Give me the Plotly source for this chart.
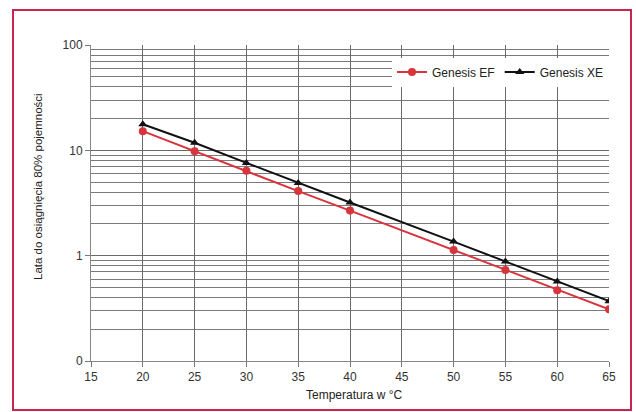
import plotly.graph_objects as go

temps_ef = [20, 25, 30, 35, 40, 50, 55, 60, 65]
years_ef = [15.2, 9.8, 6.4, 4.1, 2.68, 1.13, 0.73, 0.47, 0.31]
temps_xe = [20, 25, 30, 35, 40, 50, 55, 60, 65]
years_xe = [17.7, 11.8, 7.6, 4.9, 3.2, 1.36, 0.88, 0.57, 0.37]
y_tickvals = [0.1, 1, 10, 100]
y_ticktext = ["0", "1", "10", "100"]
minor_vals = [m * d for d in (0.1, 1, 10) for m in range(2, 10)]

L, R, T, B = 91, 27, 45, 51
W, H = 636, 412
pw, ph = W - L - R, H - T - B

def px(x):
    return (x - L) / pw

def py(y):
    return 1 - (y - T) / ph

fig = go.Figure()
fig.add_trace(go.Scatter(
    x=temps_ef, y=years_ef, name="Genesis EF", mode="lines+markers",
    line=dict(color="#d8343c", width=2),
    marker=dict(symbol="circle", size=8, color="#d8343c")))
fig.add_trace(go.Scatter(
    x=temps_xe, y=years_xe, name="Genesis XE", mode="lines+markers",
    line=dict(color="#111111", width=2),
    marker=dict(symbol="triangle-up", size=8, color="#111111")))

font = "Liberation Sans, Arial, sans-serif"
fig.update_layout(
    width=W, height=H,
    margin=dict(l=L, r=R, t=T, b=B),
    paper_bgcolor="white", plot_bgcolor="white",
    font=dict(family=font, size=12, color="#333333"),
    showlegend=True,
    legend=dict(orientation="h", x=px(392), xanchor="left", y=py(72), yanchor="middle",
                bgcolor="white", font=dict(size=12, color="#222222"),
                itemwidth=30, tracegroupgap=0),
    xaxis=dict(range=[15, 65], dtick=5, tick0=15, showgrid=True, gridcolor="#6a6a6a",
               gridwidth=1, showline=True, linecolor="#888888", linewidth=1,
               ticks="outside", ticklen=5, tickcolor="#777777", zeroline=False,
               tickfont=dict(size=12, color="#333333")),
    yaxis=dict(type="log", range=[-1, 2], tickvals=y_tickvals, ticktext=y_ticktext,
               showgrid=True, gridcolor="#6a6a6a", gridwidth=1,
               showline=True, linecolor="#888888", linewidth=1,
               ticks="outside", ticklen=5, tickcolor="#777777", zeroline=False,
               tickfont=dict(size=12, color="#333333"),
               minor=dict(tickvals=minor_vals, showgrid=True, gridcolor="#7a7a7a",
                          gridwidth=1, ticks="")),
    annotations=[
        dict(text="Lata do osiągnięcia 80% pojemności", textangle=-90,
             xref="paper", yref="paper", x=px(38), y=py(187),
             xanchor="center", yanchor="middle", showarrow=False,
             font=dict(size=11.5, color="#222222")),
        dict(text="Temperatura w °C", xref="paper", yref="paper",
             x=px(354), y=py(395), xanchor="center", yanchor="middle",
             showarrow=False, font=dict(size=12, color="#222222")),
    ],
    shapes=[dict(type="rect", xref="paper", yref="paper",
                 x0=px(13), x1=px(631), y0=py(410), y1=py(10),
                 line=dict(color="#c9254e", width=2), layer="below")],
)

fig.write_html("out.html")
